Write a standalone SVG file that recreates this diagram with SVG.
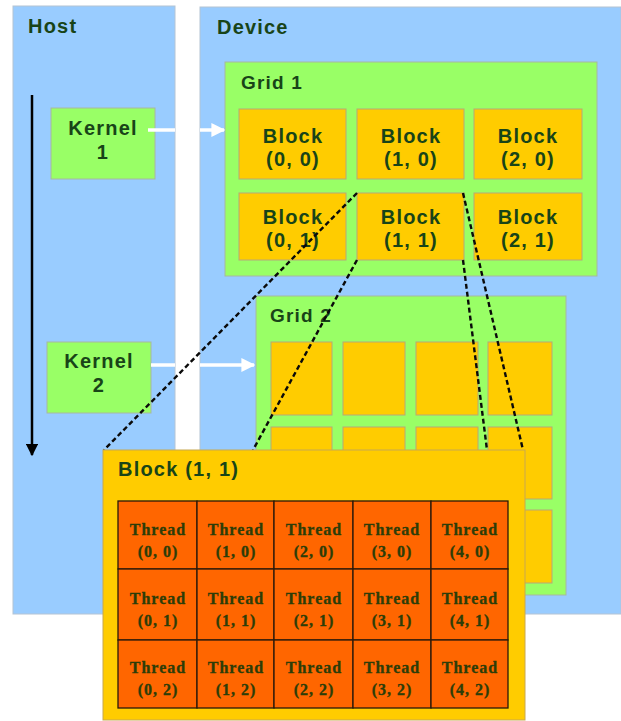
<svg xmlns="http://www.w3.org/2000/svg" width="621" height="721" viewBox="0 0 621 721">
  <defs>
    <style>
      .panel { fill: #99ccff; stroke: #b4c4d4; stroke-width: 1; }
      .grid { fill: #99ff66; stroke: #a8b8a0; stroke-width: 1; }
      .blk { fill: #ffcc00; stroke: #b8a878; stroke-width: 1; }
      .kern { fill: #99ff66; stroke: #a8b8a0; stroke-width: 1; }
      .thr { fill: #ff6600; stroke: #2a1a0a; stroke-width: 1.3; }
      .lbl { font-family: "Liberation Sans", Arial, sans-serif; font-weight: bold; fill: #184418; letter-spacing: 1.2px; }
      .big { font-size: 20px; }
      .btxt { font-size: 20px; text-anchor: middle; }
      .ttxt { font-family: "Liberation Serif", "Times New Roman", serif; font-weight: bold; font-size: 16px; fill: #2c3d08; text-anchor: middle; letter-spacing: 1px; stroke: #2c3d08; stroke-width: 0.3; }
      .dash { fill: none; stroke: #0a0a0a; stroke-width: 2.4; stroke-dasharray: 5 3; }
      .warr { fill: none; stroke: #ffffff; stroke-width: 3.5; }
    </style>
    <marker id="whiteHead" viewBox="0 0 10 10" refX="9" refY="5" markerWidth="4" markerHeight="4" orient="auto" markerUnits="strokeWidth">
      <path d="M0,0 L10,5 L0,10 Z" fill="#ffffff"/>
    </marker>
    <marker id="blackHead" viewBox="0 0 10 10" refX="9" refY="5" markerWidth="5" markerHeight="5" orient="auto" markerUnits="strokeWidth">
      <path d="M0,0 L10,5 L0,10 Z" fill="#000000"/>
    </marker>
  </defs>

  <rect width="621" height="721" fill="#ffffff"/>

  <!-- Host side -->
  <g id="host">
    <rect class="panel" x="13" y="6" width="162" height="608"/>
    <text class="lbl big" x="28" y="33">Host</text>
  </g>

  <!-- Device side -->
  <g id="device">
    <rect class="panel" x="200" y="7" width="421" height="607"/>
    <text class="lbl big" x="217" y="34">Device</text>
  </g>

  <!-- Grid 1 with six labelled blocks -->
  <g id="grid1">
    <rect class="grid" x="225" y="62" width="372" height="214"/>
    <text class="lbl" font-size="19" x="241" y="89">Grid 1</text>
  </g>
  <g id="block-0-0">
    <rect class="blk" x="239" y="109" width="107" height="70"/>
    <text class="lbl btxt" x="293" y="143">Block</text>
    <text class="lbl btxt" x="293" y="166">(0, 0)</text>
  </g>
  <g id="block-1-0">
    <rect class="blk" x="357" y="109" width="107" height="70"/>
    <text class="lbl btxt" x="411" y="143">Block</text>
    <text class="lbl btxt" x="411" y="166">(1, 0)</text>
  </g>
  <g id="block-2-0">
    <rect class="blk" x="474" y="109" width="108" height="70"/>
    <text class="lbl btxt" x="528" y="143">Block</text>
    <text class="lbl btxt" x="528" y="166">(2, 0)</text>
  </g>
  <g id="block-0-1">
    <rect class="blk" x="239" y="193" width="107" height="67"/>
    <text class="lbl btxt" x="293" y="224">Block</text>
    <text class="lbl btxt" x="293" y="247">(0, 1)</text>
  </g>
  <g id="block-1-1">
    <rect class="blk" x="357" y="193" width="107" height="67"/>
    <text class="lbl btxt" x="411" y="224">Block</text>
    <text class="lbl btxt" x="411" y="247">(1, 1)</text>
  </g>
  <g id="block-2-1">
    <rect class="blk" x="474" y="193" width="108" height="67"/>
    <text class="lbl btxt" x="528" y="224">Block</text>
    <text class="lbl btxt" x="528" y="247">(2, 1)</text>
  </g>

  <!-- Grid 2 with unlabelled blocks -->
  <g id="grid2">
    <rect class="grid" x="256" y="296" width="310" height="299"/>
    <text class="lbl" font-size="19" x="270" y="322">Grid 2</text>
    <rect class="blk" x="271" y="342" width="61" height="73"/>
    <rect class="blk" x="343" y="342" width="62" height="73"/>
    <rect class="blk" x="416" y="342" width="62" height="73"/>
    <rect class="blk" x="488" y="342" width="64" height="73"/>
    <rect class="blk" x="271" y="427" width="61" height="72"/>
    <rect class="blk" x="343" y="427" width="62" height="72"/>
    <rect class="blk" x="416" y="427" width="62" height="72"/>
    <rect class="blk" x="488" y="427" width="64" height="72"/>
    <rect class="blk" x="271" y="510" width="61" height="73"/>
    <rect class="blk" x="343" y="510" width="62" height="73"/>
    <rect class="blk" x="416" y="510" width="62" height="73"/>
    <rect class="blk" x="488" y="510" width="64" height="73"/>
  </g>

  <!-- Kernels -->
  <g id="kernel1">
    <rect class="kern" x="51" y="108" width="104" height="71"/>
    <text class="lbl btxt" x="103" y="135">Kernel</text>
    <text class="lbl btxt" x="103" y="159">1</text>
  </g>
  <g id="kernel2">
    <rect class="kern" x="47" y="342" width="104" height="71"/>
    <text class="lbl btxt" x="99" y="368">Kernel</text>
    <text class="lbl btxt" x="99" y="392">2</text>
  </g>

  <!-- Connectors -->
  <g id="connectors">
    <line x1="32" y1="95" x2="32" y2="455" stroke="#000" stroke-width="2.5" marker-end="url(#blackHead)"/>
    <line class="warr" x1="148" y1="130" x2="175" y2="130"/>
    <line class="warr" x1="200" y1="130" x2="224" y2="130" marker-end="url(#whiteHead)"/>
    <line class="warr" x1="151" y1="365" x2="175" y2="365"/>
    <line class="warr" x1="200" y1="365" x2="254" y2="365" marker-end="url(#whiteHead)"/>
    <line class="dash" x1="357" y1="193" x2="104" y2="450"/>
    <line class="dash" x1="357" y1="260" x2="253" y2="450"/>
    <line class="dash" x1="463" y1="193" x2="523" y2="450"/>
    <line class="dash" x1="463" y1="260" x2="487" y2="450"/>
  </g>

  <!-- Expanded view of Block (1, 1) -->
  <g id="block-detail">
    <rect x="103" y="450" width="422" height="270" fill="#ffcc00" stroke="#c8a850" stroke-width="1"/>
    <text class="lbl" font-size="20" x="118" y="476">Block (1, 1)</text>
  </g>

  <g id="threads">
    <rect class="thr" x="118" y="501" width="79" height="68"/>
    <rect class="thr" x="197" y="501" width="77" height="68"/>
    <rect class="thr" x="274" y="501" width="79" height="68"/>
    <rect class="thr" x="353" y="501" width="78" height="68"/>
    <rect class="thr" x="431" y="501" width="77" height="68"/>
    <rect class="thr" x="118" y="569" width="79" height="71"/>
    <rect class="thr" x="197" y="569" width="77" height="71"/>
    <rect class="thr" x="274" y="569" width="79" height="71"/>
    <rect class="thr" x="353" y="569" width="78" height="71"/>
    <rect class="thr" x="431" y="569" width="77" height="71"/>
    <rect class="thr" x="118" y="640" width="79" height="68"/>
    <rect class="thr" x="197" y="640" width="77" height="68"/>
    <rect class="thr" x="274" y="640" width="79" height="68"/>
    <rect class="thr" x="353" y="640" width="78" height="68"/>
    <rect class="thr" x="431" y="640" width="77" height="68"/>

    <text class="ttxt" x="158" y="535">Thread</text><text class="ttxt" x="158" y="557">(0, 0)</text>
    <text class="ttxt" x="236" y="535">Thread</text><text class="ttxt" x="236" y="557">(1, 0)</text>
    <text class="ttxt" x="314" y="535">Thread</text><text class="ttxt" x="314" y="557">(2, 0)</text>
    <text class="ttxt" x="392" y="535">Thread</text><text class="ttxt" x="392" y="557">(3, 0)</text>
    <text class="ttxt" x="470" y="535">Thread</text><text class="ttxt" x="470" y="557">(4, 0)</text>

    <text class="ttxt" x="158" y="604">Thread</text><text class="ttxt" x="158" y="626">(0, 1)</text>
    <text class="ttxt" x="236" y="604">Thread</text><text class="ttxt" x="236" y="626">(1, 1)</text>
    <text class="ttxt" x="314" y="604">Thread</text><text class="ttxt" x="314" y="626">(2, 1)</text>
    <text class="ttxt" x="392" y="604">Thread</text><text class="ttxt" x="392" y="626">(3, 1)</text>
    <text class="ttxt" x="470" y="604">Thread</text><text class="ttxt" x="470" y="626">(4, 1)</text>

    <text class="ttxt" x="158" y="673">Thread</text><text class="ttxt" x="158" y="695">(0, 2)</text>
    <text class="ttxt" x="236" y="673">Thread</text><text class="ttxt" x="236" y="695">(1, 2)</text>
    <text class="ttxt" x="314" y="673">Thread</text><text class="ttxt" x="314" y="695">(2, 2)</text>
    <text class="ttxt" x="392" y="673">Thread</text><text class="ttxt" x="392" y="695">(3, 2)</text>
    <text class="ttxt" x="470" y="673">Thread</text><text class="ttxt" x="470" y="695">(4, 2)</text>
  </g>
</svg>
